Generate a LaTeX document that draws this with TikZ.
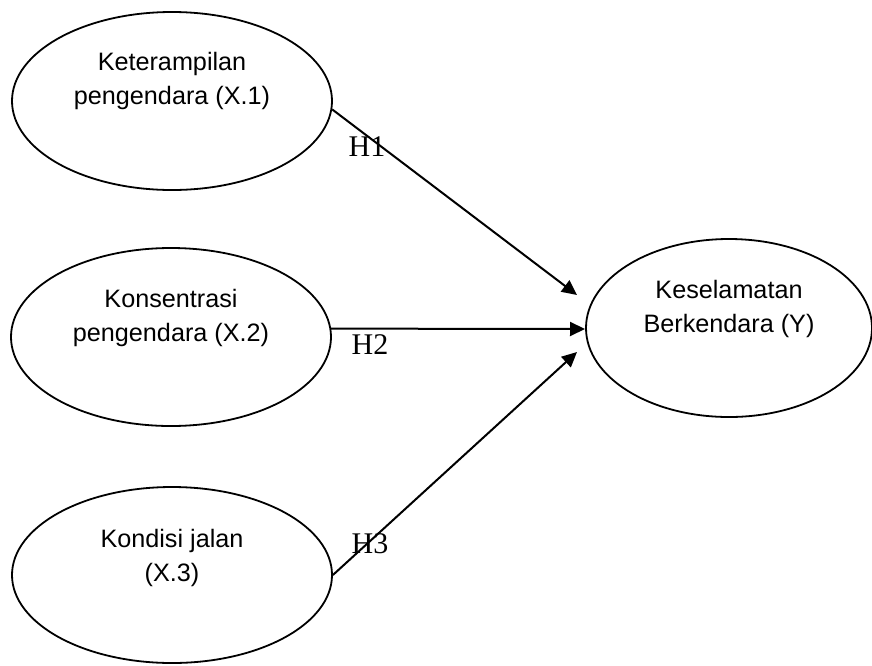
\documentclass[tikz,border=0pt]{standalone}
\usepackage{fontspec}
\setmainfont{Liberation Sans}
\newfontfamily\hypfont{Liberation Serif}
\usetikzlibrary{arrows.meta,shapes.geometric}
\tikzset{construct/.style={ellipse,draw=black,line width=.9pt,
 minimum width=160pt,minimum height=89pt,inner sep=0pt},
 caption/.style={align=center,inner sep=0pt,text=black,
 font=\fontsize{12.6}{17}\selectfont},
 hyp/.style={inner sep=0pt,text=black,font=\hypfont\fontsize{15}{17}\selectfont},
 effect/.style={draw=black,line width=1pt,-{Triangle[length=7.5pt,width=7pt]}}}

\begin{document}
\begin{tikzpicture}[x=.5pt,y=-.5pt]
 \useasboundingbox (0,0) rectangle (872,665);
 % exogenous constructs
 \node[construct] (x1) at (172,101) {};
 \node[construct] (x2) at (171,337) {};
 \node[construct,minimum height=88pt] (x3) at (172,575) {};
 \node[caption,yshift=10pt] (x1t) at (x1.center) {Keterampilan\\pengendara (X.1)};
 \node[caption,yshift=9.5pt] (x2t) at (x2.center) {Konsentrasi\\pengendara (X.2)};
 \node[caption,yshift=8.5pt] (x3t) at (x3.center) {Kondisi jalan\\(X.3)};
 % endogenous construct
 \node[construct,minimum width=143pt] (y) at (729,328) {};
 \node[caption,yshift=9.5pt] (yt) at (y.center) {Keselamatan\\Berkendara (Y)};
 % hypotheses
 \coordinate (in1) at (577,295);
 \coordinate (in2) at (585,329);
 \coordinate (in3) at (577,352);
 \draw[effect] (x1.-3) -- (in1);
 \draw[effect] (x2.3) -- (in2);
 \draw[effect] (x3.east) -- (in3);
 \node[hyp] (h1) at (367,147) {H1};
 \node[hyp] (h2) at (370,345) {H2};
 \node[hyp] (h3) at (370,544) {H3};
\end{tikzpicture}
\end{document}
